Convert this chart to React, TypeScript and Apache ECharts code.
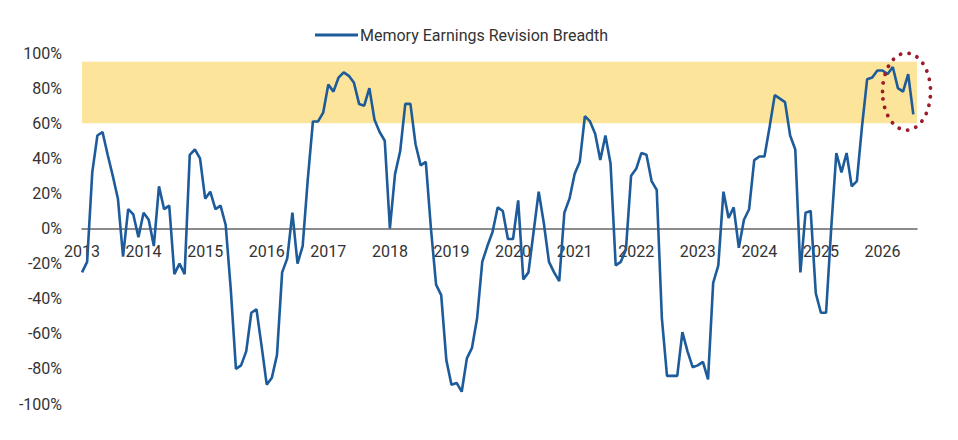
import React, { useEffect, useRef } from "react";
import * as echarts from "echarts";

const START_YEAR = 2013;
const SERIES_NAME = "Memory Earnings Revision Breadth";

// Monthly values (%), Jan 2013 onwards
const values2013_2015 = [
  -25, -19, 32, 53, 55, 42, 30, 17, -16, 11, 8, -5,
  9, 5, -10, 24, 11, 13, -26, -20, -26, 42, 45, 40,
  17, 21, 11, 13, 2, -35, -80, -78, -70, -48, -46, -67,
];
const values2016_2018 = [
  -89, -85, -72, -25, -17, 9, -20, -10, 28, 61, 61, 66,
  82, 78, 86, 89, 87, 83, 71, 70, 80, 62, 55, 50,
  0, 31, 44, 71, 71, 48, 36, 38, 0, -32, -38, -75,
];
const values2019_2021 = [
  -89, -88, -93, -74, -68, -51, -19, -10, -2, 12, 10, -6,
  -6, 16, -29, -25, -2, 21, 3, -19, -25, -30, 9, 17,
  31, 38, 64, 61, 54, 39, 53, 37, -21, -19, -12, 30,
];
const values2022_2024 = [
  34, 43, 42, 27, 22, -51, -84, -84, -84, -59, -70, -79,
  -78, -76, -86, -31, -21, 21, 6, 12, -11, 5, 11, 39,
  41, 41, 58, 76, 74, 72, 53, 45, -25, 9, 10, -37,
];
const values2025_2026 = [
  -48, -48, 0, 43, 32, 43, 24, 27, 58, 85, 86, 90,
  90, 88, 92, 80, 78, 88, 65,
];

const monthlyValues = [
  ...values2013_2015,
  ...values2016_2018,
  ...values2019_2021,
  ...values2022_2024,
  ...values2025_2026,
];

const BAND = [60, 95];
const Y_MIN = -100;
const Y_MAX = 100;
const Y_INTERVAL = 20;
const X_MIN = 2013;
const X_MAX = 2026.56;
// highlighted recent readings (ellipse centre in data coordinates)
const HIGHLIGHT = { x: 2026.39, y: 78 };

const FONT = "Roboto, 'Noto Sans', sans-serif";
const LINE_COLOR = "#1d5b9a";

export default function App() {
  const ref = useRef<HTMLDivElement>(null);

  useEffect(() => {
    if (!ref.current) return;
    const chart = echarts.init(ref.current, undefined, { renderer: "svg" });
    const data = monthlyValues.map((v, i) => [START_YEAR + i / 12, v]);

    const xAxisBase = {
      type: "value",
      min: X_MIN,
      max: X_MAX,
      interval: 1,
      axisLine: { onZero: false, lineStyle: { color: "#666666", width: 1.5 } },
      axisTick: { show: false },
      splitLine: { show: false },
      axisLabel: {
        fontSize: 16,
        color: "#333333",
        margin: 15,
        fontFamily: FONT,
        formatter: (v: number) => (Math.abs(v - Math.round(v)) < 1e-6 ? String(Math.round(v)) : ""),
      },
    };

    chart.setOption({
      animation: false,
      backgroundColor: "#ffffff",
      textStyle: { fontFamily: FONT },
      legend: {
        data: [SERIES_NAME],
        left: 310,
        top: 22,
        icon: "rect",
        itemWidth: 43,
        itemHeight: 3,
        textStyle: { fontSize: 16, color: "#333333", fontFamily: FONT, padding: [0, 0, 0, -3] },
      },
      grid: { left: 82, right: 41, top: 53, bottom: 36, containLabel: false },
      xAxis: xAxisBase,
      yAxis: {
        type: "value",
        min: Y_MIN,
        max: Y_MAX,
        interval: Y_INTERVAL,
        axisLine: { show: false },
        axisTick: { show: false },
        splitLine: { show: false },
        axisLabel: {
          fontSize: 16,
          color: "#333333",
          margin: 20,
          fontFamily: FONT,
          formatter: "{value}%",
        },
      },
      series: [
        {
          name: SERIES_NAME,
          type: "line",
          data,
          symbol: "none",
          lineStyle: { color: LINE_COLOR, width: 2.6 },
          itemStyle: { color: LINE_COLOR },
          z: 3,
          markArea: {
            silent: true,
            itemStyle: { color: "#fce59b", opacity: 1 },
            data: [[{ yAxis: BAND[0] }, { yAxis: BAND[1] }]],
          },
        },
      ],
    });

    // move the x axis (line + labels) up to the zero line
    const zeroY = (chart.convertToPixel({ yAxisIndex: 0 }, 0) as number);
    const bottomY = (chart.convertToPixel({ yAxisIndex: 0 }, Y_MIN) as number);
    const c = chart.convertToPixel({ gridIndex: 0 }, [HIGHLIGHT.x, HIGHLIGHT.y]) as number[];

    chart.setOption({
      xAxis: { ...xAxisBase, offset: zeroY - bottomY },
      graphic: [
        {
          type: "ellipse",
          shape: { cx: c[0], cy: c[1], rx: 24, ry: 38.5 },
          style: {
            fill: "none",
            stroke: "#9e1b2b",
            lineWidth: 3.8,
            lineDash: [0.1, 8.6],
            lineCap: "round",
          },
          z: 100,
        },
      ],
    });

    return () => chart.dispose();
  }, []);

  return (
    <div
      ref={ref}
      style={{ position: "fixed", left: 0, top: 0, width: 958, height: 440, background: "#fff" }}
    />
  );
}
